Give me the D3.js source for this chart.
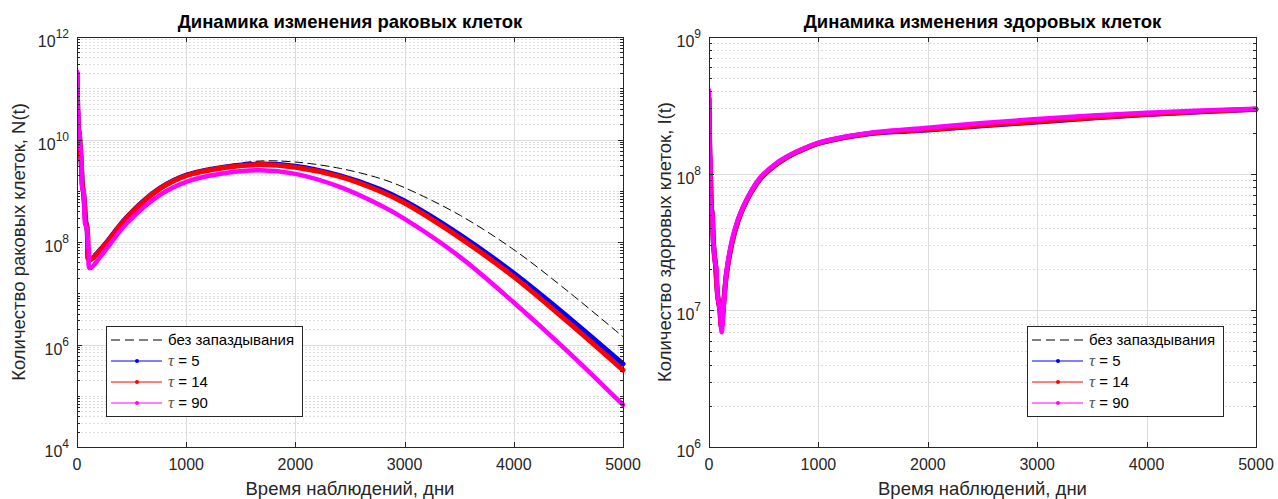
<!DOCTYPE html>
<html>
<head>
<meta charset="utf-8">
<script src="https://cdn.jsdelivr.net/npm/d3@7"></script>
<style>
  body { margin: 0; background: #fff; }
  svg { display: block; font-family: "Liberation Sans", Arial, sans-serif; }
</style>
</head>
<body>
<svg id="chart" width="1278" height="499"></svg>
<script>
// x ticks (days)
const xTicks = [0, 1000, 2000, 3000, 4000, 5000];

// ---- left panel: cancer cells N(t), values are log10 ----
const tumorDays = [0, 4, 8, 14, 22, 30, 40, 50, 60, 70, 80, 90, 100, 110, 238, 458, 760, 1007, 1374, 1676, 2000, 2400, 2775, 3000, 3500, 4000, 4500, 5000];
const tumorNoDelay = [11.3, 10.9, 10.5, 10.2, 10.1, 9.8, 9.5, 9.1, 8.95, 8.7, 8.4, 8.3, 8.1, 7.66, 7.92, 8.5, 9.07, 9.33, 9.5, 9.58, 9.56, 9.44, 9.24, 9.06, 8.53, 7.85, 7.03, 6.15];
const tumorTau5 = [11.3, 10.9, 10.5, 10.2, 10.1, 9.8, 9.5, 9.1, 8.95, 8.7, 8.4, 8.3, 7.9, 7.65, 7.91, 8.49, 9.05, 9.31, 9.47, 9.52, 9.48, 9.3, 9.03, 8.8, 8.15, 7.39, 6.53, 5.62];
const tumorTau14 = [11.3, 10.9, 10.5, 10.2, 10.1, 9.8, 9.5, 9.1, 8.95, 8.7, 8.4, 8.3, 8.1, 7.65, 7.9, 8.48, 9.04, 9.3, 9.46, 9.51, 9.46, 9.28, 8.99, 8.76, 8.09, 7.32, 6.43, 5.5];
const tumorDaysTau90 = [0, 4, 6, 10, 14, 22, 28, 36, 42, 48, 60, 66, 74, 84, 92, 100, 108, 116, 238, 458, 760, 1007, 1374, 1676, 2000, 2400, 2775, 3000, 3500, 4000, 4500, 5000];
const tumorTau90 = [11.32, 11.0, 10.6, 10.55, 10.2, 10.15, 9.85, 9.8, 9.5, 9.05, 9.0, 8.7, 8.35, 8.3, 8.25, 8.0, 7.8, 7.49, 7.78, 8.37, 8.92, 9.18, 9.35, 9.4, 9.33, 9.08, 8.72, 8.45, 7.72, 6.82, 5.85, 4.82];

// ---- right panel: healthy cells I(t), values are log10 ----
const healthyDays = [0, 4, 8, 14, 22, 30, 40, 50, 60, 70, 80, 90, 100, 112, 162, 230, 312, 466, 619, 700, 800, 900, 1000, 1250, 1500, 2000, 2500, 3000, 3500, 4000, 4500, 5000];
const healthyNoDelay = [8.55, 8.3, 8.13, 8.0, 7.75, 7.7, 7.5, 7.4, 7.33, 7.2, 7.1, 7.05, 7.0, 6.88, 7.28, 7.56, 7.75, 7.96, 8.07, 8.112, 8.155, 8.19, 8.22, 8.265, 8.294, 8.317, 8.348, 8.375, 8.405, 8.43, 8.452, 8.47];
const healthyTau5 = [8.55, 8.3, 8.13, 8.0, 7.75, 7.7, 7.5, 7.4, 7.33, 7.2, 7.1, 7.05, 7.0, 6.88, 7.28, 7.56, 7.75, 7.96, 8.07, 8.113, 8.156, 8.191, 8.221, 8.266, 8.296, 8.32, 8.35, 8.378, 8.407, 8.432, 8.453, 8.471];
const healthyTau14 = [8.55, 8.3, 8.13, 8.0, 7.75, 7.7, 7.5, 7.4, 7.33, 7.2, 7.1, 7.05, 7.0, 6.88, 7.28, 7.56, 7.75, 7.96, 8.07, 8.114, 8.157, 8.192, 8.222, 8.268, 8.298, 8.323, 8.354, 8.382, 8.41, 8.434, 8.455, 8.472];
const healthyDaysTau90 = [0, 3, 6, 10, 14, 22, 30, 38, 46, 56, 66, 72, 80, 90, 100, 108, 116, 162, 230, 312, 466, 619, 700, 800, 900, 1000, 1250, 1500, 2000, 2500, 3000, 3500, 4000, 4500, 5000];
const healthyTau90 = [8.61, 8.3, 8.14, 8.13, 7.8, 7.72, 7.7, 7.5, 7.44, 7.35, 7.32, 7.2, 7.1, 7.05, 7.0, 6.9, 6.84, 7.3, 7.58, 7.76, 7.97, 8.08, 8.12, 8.162, 8.197, 8.227, 8.272, 8.302, 8.336, 8.37, 8.4, 8.425, 8.445, 8.462, 8.475];

const legendLabels = ["без запаздывания", "5", "14", "90"];

const svg = d3.select("#chart");
const pair = (days, vals) => days.map((d, i) => [d, Math.pow(10, vals[i])]);

function drawPanel(p) {
  const x = d3.scaleLinear().domain([0, 5000]).range([p.left, p.right]);
  const y = d3.scaleLog().domain(p.yDomain).range([p.bottom, p.top]);
  const g = svg.append("g");
  const e0 = Math.log10(p.yDomain[0]), e1 = Math.log10(p.yDomain[1]);

  // labelled decades (every 2nd on the wide range), rest go to the dotted grid
  const majors = d3.range(e0, e1 + 1, p.decadeStep).map(e => Math.pow(10, e));
  const minor = [];
  for (let e = e0; e < e1; e++) {
    for (let k = 1; k <= 9; k++) {
      const v = k * Math.pow(10, e);
      if (!majors.includes(v)) minor.push(v);
    }
  }
  g.selectAll(".minor").data(minor).join("line")
    .attr("x1", p.left).attr("x2", p.right)
    .attr("y1", d => Math.round(y(d)) + 0.5).attr("y2", d => Math.round(y(d)) + 0.5)
    .attr("stroke", "#dedede").attr("stroke-dasharray", "2,2");
  g.selectAll(".hmaj").data(majors).join("line")
    .attr("x1", p.left).attr("x2", p.right)
    .attr("y1", d => Math.round(y(d)) + 0.5).attr("y2", d => Math.round(y(d)) + 0.5)
    .attr("stroke", "#dcdcdc");
  g.selectAll(".vmaj").data(xTicks).join("line")
    .attr("x1", d => Math.round(x(d)) + 0.5).attr("x2", d => Math.round(x(d)) + 0.5)
    .attr("y1", p.top).attr("y2", p.bottom)
    .attr("stroke", "#dcdcdc");

  // curves
  const clipId = "clip" + p.left;
  svg.append("clipPath").attr("id", clipId).append("rect")
    .attr("x", p.left).attr("y", p.top - 3).attr("width", p.right - p.left + 3).attr("height", p.bottom - p.top + 3);
  const line = d3.line().x(d => x(d[0])).y(d => y(d[1])).curve(d3.curveCatmullRom.alpha(0.5));
  const lines = g.append("g").attr("clip-path", `url(#${clipId})`);
  p.series.forEach(s => {
    lines.append("path").datum(s.data)
      .attr("d", line)
      .attr("fill", "none")
      .attr("stroke", s.color)
      .attr("stroke-width", s.width)
      .attr("stroke-dasharray", s.dash || null)
      .attr("stroke-linejoin", "round")
      .attr("stroke-linecap", "round");
  });

  // axes box
  g.append("rect").attr("x", p.left + 0.5).attr("y", p.top + 0.5)
    .attr("width", p.right - p.left).attr("height", p.bottom - p.top)
    .attr("fill", "none").attr("stroke", "#262626");

  // ticks inside
  xTicks.forEach(t => {
    const xx = Math.round(x(t)) + 0.5;
    g.append("line").attr("x1", xx).attr("x2", xx).attr("y1", p.bottom).attr("y2", p.bottom - 5).attr("stroke", "#262626");
    g.append("line").attr("x1", xx).attr("x2", xx).attr("y1", p.top).attr("y2", p.top + 5).attr("stroke", "#262626");
  });
  minor.concat(majors).forEach(v => {
    const yy = Math.round(y(v)) + 0.5;
    const len = majors.includes(v) ? 5 : 3;
    g.append("line").attr("x1", p.left).attr("x2", p.left + len).attr("y1", yy).attr("y2", yy).attr("stroke", "#262626");
    g.append("line").attr("x1", p.right).attr("x2", p.right - len).attr("y1", yy).attr("y2", yy).attr("stroke", "#262626");
  });

  // tick labels
  g.selectAll(".xl").data(xTicks).join("text")
    .attr("x", d => x(d)).attr("y", p.bottom + 23)
    .attr("text-anchor", "middle").attr("font-size", 16).attr("fill", "#262626")
    .text(d => d);
  majors.forEach(v => {
    const t = g.append("text")
      .attr("x", p.left - 8).attr("y", y(v) + 10)
      .attr("text-anchor", "end").attr("fill", "#262626").attr("font-size", 16);
    t.append("tspan").text("10");
    t.append("tspan").attr("font-size", 12).attr("dy", -9).text(Math.round(Math.log10(v)));
  });

  // title and labels
  svg.append("text").attr("x", (p.left + p.right) / 2).attr("y", 28)
    .attr("text-anchor", "middle").attr("font-weight", "bold").attr("font-size", 18.5)
    .attr("fill", "#000").text(p.title);
  svg.append("text").attr("x", (p.left + p.right) / 2).attr("y", 495)
    .attr("text-anchor", "middle").attr("font-size", 18.5).attr("fill", "#262626")
    .text("Время наблюдений, дни");
  svg.append("text")
    .attr("transform", `translate(${p.yLabelX},${(p.top + p.bottom) / 2}) rotate(-90)`)
    .attr("text-anchor", "middle").attr("font-size", 18.5).attr("fill", "#262626")
    .text(p.yLabel);

  // legend
  const lg = svg.append("g").attr("transform", `translate(${p.legendX},${p.legendY})`);
  lg.append("rect").attr("x", 0.5).attr("y", 0.5).attr("width", 196).attr("height", 90)
    .attr("fill", "#fff").attr("stroke", "#262626");
  p.series.forEach((s, i) => {
    const ly = 14 + i * 21;
    lg.append("line").attr("x1", 5).attr("x2", 56).attr("y1", ly).attr("y2", ly)
      .attr("stroke", s.color).attr("stroke-width", 1.2)
      .attr("stroke-dasharray", i === 0 ? "9,5" : null);
    if (i > 0) lg.append("circle").attr("cx", 31).attr("cy", ly).attr("r", 2).attr("fill", s.color);
    const tx = lg.append("text").attr("x", 62).attr("y", ly + 5).attr("font-size", 15).attr("fill", "#000");
    if (i === 0) tx.text(legendLabels[0]);
    else {
      tx.append("tspan").attr("font-family", "Liberation Serif, serif").attr("font-style", "italic")
        .attr("fill", "#555").attr("font-size", 17).text("τ");
      tx.append("tspan").text(" = " + legendLabels[i]);
    }
  });
}

drawPanel({
  left: 77, right: 623, top: 37, bottom: 447,
  yDomain: [1e4, 1e12], decadeStep: 2,
  title: "Динамика изменения раковых клеток",
  yLabel: "Количество раковых клеток, N(t)",
  yLabelX: 25,
  legendX: 106, legendY: 326,
  series: [
    { data: pair(tumorDays, tumorNoDelay), color: "#000", width: 1, dash: "8,5" },
    { data: pair(tumorDays, tumorTau5), color: "#0000ff", width: 5 },
    { data: pair(tumorDays, tumorTau14), color: "#ff0000", width: 5 },
    { data: pair(tumorDaysTau90, tumorTau90), color: "#ff00ff", width: 4.5 }
  ]
});

drawPanel({
  left: 709, right: 1256, top: 37, bottom: 447,
  yDomain: [1e6, 1e9], decadeStep: 1,
  title: "Динамика изменения здоровых клеток",
  yLabel: "Количество здоровых клеток, I(t)",
  yLabelX: 671,
  legendX: 1027, legendY: 326,
  series: [
    { data: pair(healthyDays, healthyNoDelay), color: "#000", width: 1, dash: "8,5" },
    { data: pair(healthyDays, healthyTau5), color: "#0000ff", width: 5 },
    { data: pair(healthyDays, healthyTau14), color: "#ff0000", width: 5 },
    { data: pair(healthyDaysTau90, healthyTau90), color: "#ff00ff", width: 4.5 }
  ]
});
</script>
</body>
</html>
